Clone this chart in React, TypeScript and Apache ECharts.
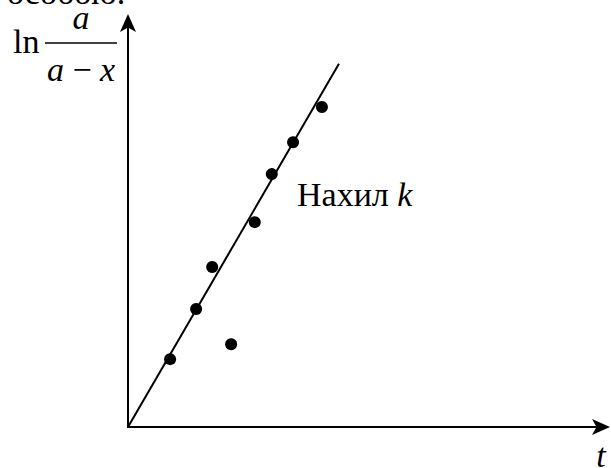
import React, { useEffect, useRef } from "react";
import * as echarts from "echarts";

// Measured time values and ln(a/(a-x)) values
const tValues = [0.89, 1.44, 1.78, 2.18, 2.68, 3.04, 3.49, 4.1];
const lnValues = [1.68, 2.92, 3.96, 2.05, 5.07, 6.26, 7.05, 7.92];

// Straight line through the origin (slope k)
const fitT = [0, 4.46];
const fitLn = [0, 8.99];

const SERIF = '"Liberation Serif", "Times New Roman", serif';
const FS = 34;
// tight line box; distance from its top to the baseline
const LH = 24;
const ASC = 23;

export default function App() {
  const ref = useRef<HTMLDivElement>(null);

  useEffect(() => {
    if (!ref.current) return;
    const chart = echarts.init(ref.current, undefined, { renderer: "svg" });

    const axisCommon = {
      type: "value" as const,
      min: 0,
      max: 10,
      axisLine: {
        show: true,
        symbol: ["none", "arrow"],
        symbolSize: [12, 18],
        symbolOffset: [0, 9],
        lineStyle: { color: "#000", width: 2 },
      },
      axisTick: { show: false },
      axisLabel: { show: false },
      splitLine: { show: false },
    };

    const txt = (x: number, baseline: number, text: string, extra: any = {}) => ({
      type: "text",
      x,
      y: baseline - ASC,
      style: {
        text,
        font: `${FS}px ${SERIF}`,
        lineHeight: LH,
        fill: "#000",
        textVerticalAlign: "top",
        rich: {
          i: { font: `italic ${FS}px ${SERIF}`, fill: "#000", lineHeight: LH },
        },
        ...extra,
      },
    });

    chart.setOption({
      animation: false,
      backgroundColor: "#fff",
      grid: { left: 128, right: 10, top: 23, bottom: 41 },
      xAxis: { ...axisCommon },
      yAxis: { ...axisCommon },
      series: [
        {
          type: "line",
          data: fitT.map((t, i) => [t, fitLn[i]]),
          showSymbol: false,
          lineStyle: { color: "#000", width: 2 },
          silent: true,
        },
        {
          type: "scatter",
          data: tValues.map((t, i) => [t, lnValues[i]]),
          symbolSize: 12,
          itemStyle: { color: "#000", opacity: 1 },
        },
      ],
      graphic: [
        // tail of the preceding text line
        txt(7, 3, "особою."),
        // y-axis title: ln a/(a - x)
        txt(13, 52, "ln"),
        txt(81, 28, "{i|a}", { textAlign: "center" }),
        {
          type: "line",
          shape: { x1: 45, y1: 43, x2: 117, y2: 43 },
          style: { stroke: "#000", lineWidth: 1.6 },
        },
        txt(81, 80, "{i|a} − {i|x}", { textAlign: "center" }),
        // x-axis title
        txt(601, 466, "{i|t}", { textAlign: "center" }),
        // slope annotation
        txt(297, 205, "Нахил {i|k}"),
      ],
    });

    return () => chart.dispose();
  }, []);

  return (
    <div
      ref={ref}
      style={{ position: "absolute", left: 0, top: 0, width: 611, height: 468 }}
    />
  );
}
